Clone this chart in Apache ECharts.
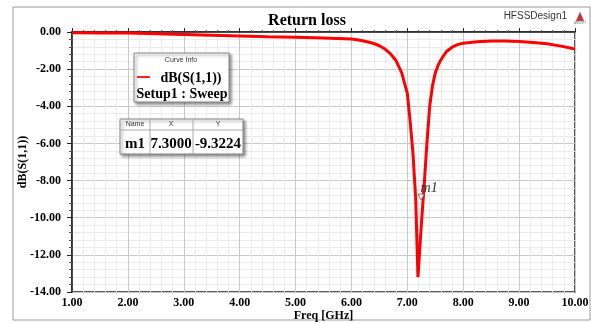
<!DOCTYPE html>
<html><head><meta charset="utf-8">
<script src="https://cdn.jsdelivr.net/npm/echarts@6/dist/echarts.min.js"></script>
<style>html,body{margin:0;padding:0;background:#fff}#c{width:591px;height:323px}</style>
</head><body><div id="c"></div>
<script>
var freq = [1.0,1.5,2.0,2.5,3.0,3.5,4.0,4.5,5.0,5.5,6.0,6.1,6.2,6.3,6.4,6.5,6.6,6.7,6.8,6.9,7.0,7.05,7.1,7.15,7.19,7.25,7.3,7.35,7.4,7.45,7.5,7.55,7.6,7.7,7.8,7.9,8.0,8.25,8.5,8.75,9.0,9.25,9.5,9.75,10.0];
var s11 = [-0.04,-0.05,-0.06,-0.09,-0.13,-0.17,-0.21,-0.25,-0.28,-0.32,-0.38,-0.42,-0.47,-0.54,-0.62,-0.74,-0.92,-1.18,-1.55,-2.2,-3.3,-4.8,-6.5,-9.0,-13.2,-10.4,-8.3,-6.0,-4.0,-2.9,-2.2,-1.8,-1.5,-1.05,-0.82,-0.68,-0.6,-0.52,-0.48,-0.48,-0.51,-0.56,-0.63,-0.76,-0.92];
var marker = {name:'m1', x:7.3, y:-9.3224};
var xTicks = {min:1, max:10, step:1};
var yTicks = {min:-14, max:0, step:2};

var data = freq.map(function(f,i){return [f, s11[i]];});
var serif = 'Liberation Serif';
var chart = echarts.init(document.getElementById('c'), null, {renderer:'canvas'});
chart.setOption({
  animation:false,
  backgroundColor:'#fff',
  title:{text:'Return loss', left:302, top:8, textAlign:'center',
    textStyle:{fontFamily:serif, fontWeight:'bold', fontSize:16, color:'#000'}},
  grid:{left:72, right:16, top:32, bottom:31, outerBoundsMode:'none', containLabel:false,
    show:true, borderColor:'#222', borderWidth:1.5, backgroundColor:'transparent'},
  xAxis:{type:'value', min:xTicks.min, max:xTicks.max, interval:xTicks.step,
    name:'Freq [GHz]', nameLocation:'middle', nameGap:18, nameMoveOverlap:false,
    nameTextStyle:{fontFamily:serif, fontWeight:'bold', fontSize:12, color:'#000'},
    axisLine:{show:true, lineStyle:{color:'#222', width:1.5}},
    axisTick:{show:true, inside:true, length:4, lineStyle:{color:'#222'}},
    minorTick:{show:true, splitNumber:5, length:2, lineStyle:{color:'#555'}},
    axisLabel:{fontFamily:serif, fontWeight:'bold', fontSize:12, color:'#000', margin:5,
      formatter:function(v){return v.toFixed(2);}},
    splitLine:{show:true, lineStyle:{color:'#c8c8c8', width:1}},
    minorSplitLine:{show:true, lineStyle:{color:'#ebebeb', width:1}}
  },
  yAxis:{type:'value', min:yTicks.min, max:yTicks.max, interval:yTicks.step,
    name:'dB(S(1,1))', nameLocation:'middle', nameGap:43, nameRotate:90, nameMoveOverlap:false,
    nameTextStyle:{fontFamily:serif, fontWeight:'bold', fontSize:12, color:'#000'},
    axisLine:{show:true, lineStyle:{color:'#222', width:1.5}},
    axisTick:{show:true, inside:false, length:5, lineStyle:{color:'#222'}},
    minorTick:{show:true, splitNumber:5, length:3, lineStyle:{color:'#555'}},
    axisLabel:{fontFamily:serif, fontWeight:'bold', fontSize:12, color:'#000', margin:11,
      formatter:function(v){return v.toFixed(2);}},
    splitLine:{show:true, lineStyle:{color:'#c8c8c8', width:1}},
    minorSplitLine:{show:true, lineStyle:{color:'#ebebeb', width:1}}
  },
  series:[{type:'line', data:data, showSymbol:false, smooth:false,
    lineStyle:{color:'#ff0000', width:3}, z:3,
    markPoint:{symbol:'triangle', symbolRotate:180, symbolSize:[6,6], symbolOffset:[-3,-8],
      itemStyle:{color:'#fff', borderColor:'#777', borderWidth:1},
      label:{show:true, position:'top', distance:-2, offset:[8,0], formatter:marker.name,
        fontFamily:serif, fontStyle:'italic', fontSize:14, color:'#333'},
      data:[{coord:[marker.x, marker.y]}]}
  }],
  graphic:[
    {type:'rect', shape:{x:13, y:7, width:577, height:313}, style:{fill:'none', stroke:'#9a9a9a', lineWidth:1}, z:-1},
    {type:'text', x:567, y:11, style:{text:'HFSSDesign1', font:'10px "Liberation Sans"', fill:'#333', textAlign:'right'}},
    {type:'polygon', shape:{points:[[580,12],[576,21],[584,21]]}, style:{fill:'#c33', stroke:'#888', lineWidth:0.5}},
    {type:'text', x:580, y:22, style:{text:'ANSOFT', font:'3px "Liberation Sans"', fill:'#777', textAlign:'center'}},
    // curve info box
    {type:'rect', shape:{x:134, y:53, width:95, height:49}, style:{fill:'#fff', stroke:'#888', lineWidth:1, shadowBlur:3, shadowOffsetX:2, shadowOffsetY:2, shadowColor:'rgba(0,0,0,0.45)'}, z:10},
    {type:'text', x:181, y:57, z:11, style:{text:'Curve Info', font:'7px "Liberation Sans"', fill:'#333', textAlign:'center'}},
    {type:'line', shape:{x1:137, y1:77, x2:150, y2:77}, z:11, style:{stroke:'#ff2020', lineWidth:2}},
    {type:'text', x:191, y:71, z:11, style:{text:'dB(S(1,1))', font:'bold 14px "Liberation Serif"', fill:'#000', textAlign:'center'}},
    {type:'text', x:182, y:87, z:11, style:{text:'Setup1 : Sweep', font:'bold 14px "Liberation Serif"', fill:'#000', textAlign:'center'}},
    // marker table
    {type:'rect', shape:{x:120, y:119, width:123, height:35}, style:{fill:'#fff', stroke:'#888', lineWidth:1, shadowBlur:3, shadowOffsetX:2, shadowOffsetY:2, shadowColor:'rgba(0,0,0,0.45)'}, z:10},
    {type:'line', shape:{x1:120, y1:130, x2:243, y2:130}, z:11, style:{stroke:'#aaa', lineWidth:1}},
    {type:'line', shape:{x1:150, y1:119, x2:150, y2:154}, z:11, style:{stroke:'#aaa', lineWidth:1}},
    {type:'line', shape:{x1:193, y1:119, x2:193, y2:154}, z:11, style:{stroke:'#aaa', lineWidth:1}},
    {type:'text', x:135, y:121, z:11, style:{text:'Name', font:'7px "Liberation Sans"', fill:'#333', textAlign:'center'}},
    {type:'text', x:171, y:121, z:11, style:{text:'X', font:'7px "Liberation Sans"', fill:'#333', textAlign:'center'}},
    {type:'text', x:218, y:121, z:11, style:{text:'Y', font:'7px "Liberation Sans"', fill:'#333', textAlign:'center'}},
    {type:'text', x:135, y:137, z:11, style:{text:marker.name, font:'bold 15px "Liberation Serif"', fill:'#000', textAlign:'center'}},
    {type:'text', x:171, y:137, z:11, style:{text:marker.x.toFixed(4), font:'bold 15px "Liberation Serif"', fill:'#000', textAlign:'center'}},
    {type:'text', x:218, y:137, z:11, style:{text:marker.y.toFixed(4), font:'bold 15px "Liberation Serif"', fill:'#000', textAlign:'center'}}
  ]
});
</script></body></html>
